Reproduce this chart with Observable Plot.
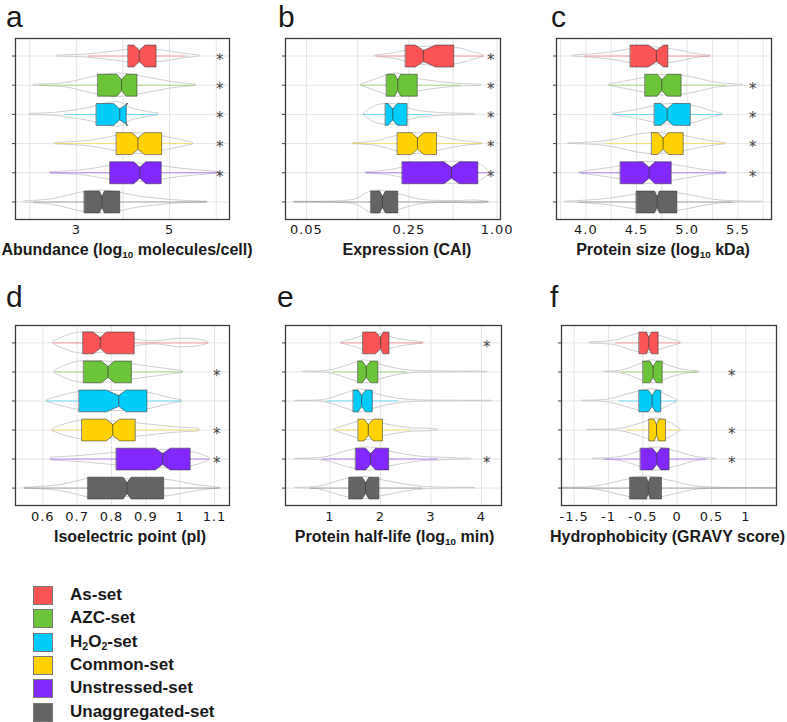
<!DOCTYPE html>
<html><head><meta charset="utf-8">
<script src="https://cdn.jsdelivr.net/npm/d3@7"></script>
<script src="https://cdn.jsdelivr.net/npm/@observablehq/plot@0.6"></script>
<style>
body{margin:0;background:#fff;}
#wrap{position:relative;width:787px;height:722px;overflow:hidden;font-family:"Liberation Sans",Arial,sans-serif;}
.pl{position:absolute;}
.letter{position:absolute;font-size:30px;line-height:30px;color:#1a1a1a;}
.title{position:absolute;width:300px;text-align:center;font-weight:bold;font-size:16px;line-height:18px;color:#1a1a1a;white-space:nowrap;}
.title sub,.leg sub{font-size:0.62em;vertical-align:-0.3em;line-height:0;}
.leg{position:absolute;left:0;font-weight:bold;font-size:17px;line-height:20px;color:#1a1a1a;}
.sw{position:absolute;width:18px;height:17px;border:1px solid #777;}
</style></head>
<body><div id="wrap"></div>
<script>
const groups = ["As-set","AZC-set","H2O2-set","Common-set","Unstressed-set","Unaggregated-set"];
const colors = ["#FA5456","#6CC539","#00CCFA","#FFD200","#8228FD","#646464"];

// box: [q1, notchLo, median, notchHi, q3]; whisker: [lo, hi]; violin: [[value, halfWidth]...]
const aBox = [[4.11,4.23,4.35,4.47,4.71],[3.46,3.87,3.97,4.07,4.30],[3.43,3.80,3.93,4.11,4.07],[3.86,4.19,4.32,4.46,4.83],[3.72,4.23,4.36,4.49,4.82],[3.17,3.49,3.55,3.60,3.93]];
const aWhisk = [[3.26,5.35],[2.21,5.56],[2.76,4.76],[2.55,5.50],[2.44,6.09],[2.09,5.81]];
const aViolin = [
 [[2.60,0.02],[3.2,0.05],[3.8,0.15],[4.3,0.25],[4.8,0.2],[5.3,0.08],[5.64,0.02]],
 [[2.09,0.02],[2.8,0.08],[3.4,0.3],[3.9,0.4],[4.4,0.3],[5.0,0.12],[5.56,0.02]],
 [[2.01,0.02],[2.6,0.06],[3.2,0.2],[3.9,0.42],[4.2,0.2],[4.76,0.03]],
 [[2.55,0.02],[3.3,0.1],[4.0,0.3],[4.4,0.35],[5.0,0.2],[5.5,0.03]],
 [[2.44,0.02],[3.2,0.1],[4.0,0.3],[4.5,0.3],[5.2,0.15],[6.09,0.02]],
 [[1.89,0.02],[2.5,0.1],[3.2,0.35],[3.7,0.38],[4.3,0.2],[5.1,0.06],[5.81,0.01]]];
const aStars = [1,1,1,1,1,0];
const aTicks = [3,5];
const aGrid = [2,3,4,5,6];

const bBox = [[0.237,0.277,0.314,0.38,0.506],[0.176,0.20,0.21,0.22,0.285],[0.173,0.18,0.194,0.208,0.243],[0.209,0.26,0.286,0.316,0.386],[0.225,0.433,0.488,0.553,0.738],[0.1375,0.158,0.165,0.173,0.21]];
const bWhisk = [[0.152,0.81],[0.118,0.568],[0.123,0.36],[0.104,0.79],[0.128,0.90],[0.0414,0.877]];
const bViolin = [
 [[0.148,0.02],[0.2,0.1],[0.3,0.3],[0.5,0.3],[0.7,0.12],[0.81,0.03]],
 [[0.118,0.02],[0.15,0.2],[0.2,0.4],[0.3,0.2],[0.5,0.06],[0.78,0.02]],
 [[0.123,0.02],[0.15,0.3],[0.2,0.35],[0.27,0.15],[0.4,0.05],[0.71,0.02]],
 [[0.104,0.01],[0.15,0.08],[0.25,0.35],[0.35,0.3],[0.55,0.1],[0.79,0.02]],
 [[0.128,0.02],[0.18,0.08],[0.3,0.3],[0.5,0.38],[0.75,0.3],[0.9,0.02]],
 [[0.0414,0.01],[0.08,0.02],[0.11,0.1],[0.14,0.38],[0.2,0.3],[0.3,0.08],[0.5,0.03],[0.7,0.05],[0.877,0.01]]];
const bStars = [1,1,1,1,1,0];
const bTicks = [0.05,0.25,1];
const bGrid = [0.05,0.1118,0.25,0.5,1];

const cBox = [[4.439,4.617,4.696,4.769,4.809],[4.584,4.703,4.749,4.802,4.94],[4.677,4.74,4.802,4.86,5.03],[4.65,4.71,4.762,4.815,4.96],[4.34,4.561,4.624,4.683,4.842],[4.498,4.677,4.703,4.726,4.898]];
const cWhisk = [[3.99,5.228],[4.234,5.386],[4.274,5.347],[4.198,5.376],[3.944,5.386],[3.934,5.452]];
const cViolin = [
 [[3.88,0.02],[4.2,0.1],[4.6,0.3],[4.9,0.2],[5.1,0.06],[5.23,0.02]],
 [[4.23,0.02],[4.5,0.2],[4.75,0.35],[5.0,0.3],[5.3,0.08],[5.55,0.02]],
 [[4.27,0.02],[4.5,0.15],[4.8,0.35],[5.05,0.3],[5.25,0.1],[5.35,0.02]],
 [[3.83,0.01],[4.2,0.08],[4.6,0.35],[4.9,0.3],[5.2,0.1],[5.38,0.02]],
 [[3.94,0.02],[4.3,0.2],[4.6,0.38],[4.9,0.25],[5.2,0.08],[5.39,0.02]],
 [[3.8,0.01],[4.2,0.1],[4.6,0.3],[4.9,0.3],[5.3,0.06],[5.74,0.01]]];
const cStars = [0,1,1,1,1,0];
const cTicks = [4.0,4.5,5.0,5.5];
const cGrid = [3.75,4.0,4.25,4.5,4.75,5.0,5.25,5.5,5.75];

const dBox = [[0.717,0.746,0.7676,0.785,0.866],[0.719,0.7705,0.79,0.809,0.858],[0.706,0.785,0.821,0.843,0.903],[0.714,0.785,0.8035,0.824,0.869],[0.814,0.9275,0.949,0.971,1.029],[0.731,0.834,0.845,0.857,0.952]];
const dWhisk = [[0.632,1.0826],[0.635,1.008],[0.6126,1.005],[0.629,1.056],[0.625,1.085],[0.5467,1.1165]];
const dViolin = [
 [[0.632,0.05],[0.7,0.35],[0.8,0.3],[0.88,0.1],[0.93,0.05],[1.0,0.15],[1.06,0.1],[1.083,0.02]],
 [[0.635,0.05],[0.7,0.35],[0.8,0.35],[0.9,0.2],[0.95,0.12],[1.008,0.03]],
 [[0.613,0.03],[0.7,0.3],[0.8,0.35],[0.9,0.3],[0.97,0.1],[1.005,0.03]],
 [[0.63,0.05],[0.7,0.3],[0.8,0.3],[0.9,0.2],[0.98,0.1],[1.056,0.05]],
 [[0.625,0.05],[0.7,0.1],[0.8,0.2],[0.9,0.3],[1.0,0.3],[1.05,0.2],[1.085,0.05]],
 [[0.547,0.01],[0.65,0.1],[0.75,0.35],[0.85,0.3],[0.95,0.3],[1.05,0.1],[1.117,0.01]]];
const dStars = [0,1,0,1,1,0];
const dTicks = [0.6,0.7,0.8,0.9,1,1.1];
const dGrid = [0.6,0.7,0.8,0.9,1,1.1];

const eBox = [[1.654,1.905,2.005,2.05,2.17],[1.555,1.64,1.72,1.806,1.95],[1.463,1.56,1.628,1.707,1.839],[1.562,1.674,1.76,1.86,2.04],[1.51,1.707,1.806,1.905,2.163],[1.377,1.64,1.707,1.773,1.97]];
const eWhisk = [[1.231,2.85],[1.05,2.53],[0.947,2.355],[1.079,2.6],[0.848,3.128],[0.617,2.844]];
const eViolin = [
 [[1.23,0.02],[1.5,0.15],[1.8,0.3],[2.1,0.25],[2.4,0.12],[2.85,0.02]],
 [[0.47,0.005],[1.0,0.05],[1.4,0.25],[1.7,0.4],[2.0,0.25],[2.5,0.06],[3.2,0.02],[4.12,0.005]],
 [[0.32,0.01],[0.9,0.04],[1.3,0.25],[1.6,0.4],[2.0,0.2],[2.5,0.05],[3.5,0.01],[4.2,0.01]],
 [[1.08,0.02],[1.4,0.2],[1.75,0.35],[2.1,0.2],[2.6,0.06],[2.9,0.05],[3.14,0.02]],
 [[0.32,0.01],[0.9,0.06],[1.4,0.3],[1.8,0.4],[2.2,0.25],[2.8,0.08],[3.3,0.04],[3.8,0.01]],
 [[0.32,0.01],[0.8,0.05],[1.3,0.3],[1.7,0.38],[2.1,0.25],[2.8,0.05],[3.875,0.01]]];
const eStars = [1,0,0,0,1,0];
const eTicks = [1,2,3,4];
const eGrid = [1,2,3,4];

const fBox = [[-0.553,-0.447,-0.413,-0.374,-0.277],[-0.495,-0.398,-0.35,-0.30,-0.218],[-0.553,-0.422,-0.364,-0.316,-0.238],[-0.408,-0.335,-0.30,-0.267,-0.17],[-0.534,-0.359,-0.296,-0.238,-0.117],[-0.689,-0.447,-0.422,-0.393,-0.228]];
const fWhisk = [[-0.898,0.053],[-0.811,0.316],[-0.845,0],[-0.738,0.053],[-1.053,0.427],[-1.675,1.447]];
const fViolin = [
 [[-1.27,0.02],[-0.9,0.08],[-0.6,0.3],[-0.4,0.35],[-0.2,0.2],[0.05,0.03]],
 [[-1.05,0.01],[-0.8,0.05],[-0.5,0.3],[-0.35,0.4],[-0.1,0.2],[0.1,0.07],[0.32,0.02]],
 [[-1.38,0.01],[-1.0,0.05],[-0.6,0.3],[-0.35,0.4],[-0.15,0.2],[0,0.03]],
 [[-1.3,0.01],[-0.8,0.05],[-0.5,0.25],[-0.3,0.4],[-0.1,0.25],[0.05,0.03]],
 [[-1.22,0.01],[-0.8,0.08],[-0.5,0.3],[-0.3,0.4],[0,0.25],[0.3,0.06],[0.57,0.01]],
 [[-1.68,0.01],[-1.2,0.05],[-0.8,0.25],[-0.45,0.4],[-0.1,0.25],[0.3,0.05],[1.45,0.01]]];
const fStars = [0,1,0,1,1,0];
const fTicks = [-1.5,-1,-0.5,0,0.5,1];
const fGrid = [-1.5,-1,-0.5,0,0.5,1];

const rows = [1,2,3,4,5,6];

const panels = [
 {letter:"a", box:aBox, whisk:aWhisk, violin:aViolin, stars:aStars, ticks:aTicks, grid:aGrid, type:"linear", domain:[1.694,6.285], fmt:d=>String(d), starDx:-5, frame:[15,38,229,219], pad:10, lx:6, tc:127, title:"Abundance (log<sub>10</sub> molecules/cell)"},
 {letter:"b", box:bBox, whisk:bWhisk, violin:bViolin, stars:bStars, ticks:bTicks, grid:bGrid, type:"log", domain:[0.036,1.054], fmt:d=>d.toFixed(2), starDx:-5, frame:[285,38,500,219], pad:10, lx:278, tc:407, title:"Expression (CAI)"},
 {letter:"c", box:cBox, whisk:cWhisk, violin:cViolin, stars:cStars, ticks:cTicks, grid:cGrid, type:"linear", domain:[3.71,5.832], fmt:d=>d.toFixed(1), starDx:-14, frame:[556,38,771,219], pad:10, lx:551, tc:663, title:"Protein size (log<sub>10</sub> kDa)"},
 {letter:"d", box:dBox, whisk:dWhisk, violin:dViolin, stars:dStars, ticks:dTicks, grid:dGrid, type:"linear", domain:[0.5205,1.1436], fmt:d=>String(d), starDx:-8, frame:[15,325,229,505], pad:11.5, lx:6, tc:130, title:"Isoelectric point (pI)"},
 {letter:"e", box:eBox, whisk:eWhisk, violin:eViolin, stars:eStars, ticks:eTicks, grid:eGrid, type:"linear", domain:[0.121,4.397], fmt:d=>String(d), starDx:-10, frame:[285,325,501,505], pad:11.5, lx:277, tc:394.5, title:"Protein half-life (log<sub>10</sub> min)"},
 {letter:"f", box:fBox, whisk:fWhisk, violin:fViolin, stars:fStars, ticks:fTicks, grid:fGrid, type:"linear", domain:[-1.684,1.447], fmt:d=>String(d), starDx:-40, frame:[561,325,776,505], pad:11.5, lx:550, tc:667.5, title:"Hydrophobicity (GRAVY score)"}
];

const wrap = document.getElementById("wrap");
const H = 0.375;
const ml = 8, mr = 6, mt = 4, mb = 28;

panels.forEach((p, pi) => {
  const [x0,y0,x1,y1] = p.frame;
  const marks = [];
  marks.push(Plot.ruleX(p.grid, {x: d=>d, stroke:"#e2e2e2", strokeWidth:0.9}));
  marks.push(Plot.ruleY(rows, {y: d=>d, stroke:"#e2e2e2", strokeWidth:0.9}));
  p.violin.forEach((prof, i) => {
    marks.push(Plot.areaY(prof, {x: d=>d[0], y1: d=>i+1-d[1], y2: d=>i+1+d[1], fill:"none", stroke:"#c8c8c8", strokeWidth:0.9, curve:"catmull-rom", clip:true}));
  });
  const wd = p.whisk.map((w,i)=>({lo:w[0], hi:w[1], row:i+1, c:colors[i]}));
  marks.push(Plot.ruleY(wd, {y:"row", x1:"lo", x2:"hi", stroke:d=>d.c, strokeWidth:0.9, strokeOpacity:0.6, clip:true}));
  p.box.forEach((b, i) => {
    const c = i+1;
    const [q1,nl,md,nh,q3] = b;
    const verts = [[q1,c-H],[nl,c-H],[md,c-H/2],[nh,c-H],[q3,c-H],[q3,c+H],[nh,c+H],[md,c+H/2],[nl,c+H],[q1,c+H]];
    marks.push(Plot.line(verts, {x:d=>d[0], y:d=>d[1], fill:colors[i], stroke:"#3a3a3a", strokeOpacity:0.65, strokeWidth:0.9, curve:"linear-closed"}));
    marks.push(Plot.ruleX([md], {x:d=>d, y1:c-H/2, y2:c+H/2, stroke:"#3a3a3a", strokeOpacity:0.7, strokeWidth:1}));
  });
  marks.push(Plot.text(rows.filter((r,i)=>p.stars[i]), {y:d=>d, text:()=>"*", frameAnchor:"right", dx:p.starDx, dy:4, fontSize:15, fill:"#444", fontFamily:"DejaVu Sans"}));
  marks.push(Plot.text(p.ticks, {x:d=>d, text:p.fmt, frameAnchor:"bottom", lineAnchor:"middle", dy:p.pad, fontSize:13, fill:"#1a1a1a", fontFamily:"DejaVu Sans"}));
  marks.push(Plot.axisY(rows, {tickSize:3, tickFormat:()=>"", stroke:"#444", label:null}));
  marks.push(Plot.frame({stroke:"#3c3c3c", strokeWidth:1.3}));
  const svg = Plot.plot({
    width: (x1-x0)+ml+mr,
    height: (y1-y0)+mt+mb,
    marginLeft: ml, marginRight: mr, marginTop: mt, marginBottom: mb,
    x: {type:p.type, domain:p.domain, axis:null},
    y: {domain:[6.6,0.4], axis:null, label:null},
    color: {type:"identity"},
    style: {background:"transparent", overflow:"visible", letterSpacing:"1px"},
    marks
  });
  const holder = document.createElement("div");
  holder.className = "pl";
  holder.style.left = (x0-ml)+"px";
  holder.style.top = (y0-mt)+"px";
  holder.appendChild(svg);
  wrap.appendChild(holder);

  const L = document.createElement("div");
  L.className = "letter";
  L.textContent = p.letter;
  L.style.left = p.lx+"px";
  L.style.top = (pi < 3 ? 2.1 : 281.6)+"px";
  wrap.appendChild(L);

  const T = document.createElement("div");
  T.className = "title";
  T.innerHTML = p.title;
  T.style.left = (p.tc - 150)+"px";
  T.style.top = (pi < 3 ? 241 : 528)+"px";
  wrap.appendChild(T);
});

const legendLabels = ["As-set","AZC-set","H<sub>2</sub>O<sub>2</sub>-set","Common-set","Unstressed-set","Unaggregated-set"];
legendLabels.forEach((lab, i) => {
  const top = 586 + i*23.33;
  const s = document.createElement("div");
  s.className = "sw";
  s.style.left = "33px";
  s.style.top = top+"px";
  s.style.background = colors[i];
  wrap.appendChild(s);
  const t = document.createElement("div");
  t.className = "leg";
  t.innerHTML = lab;
  t.style.left = "70px";
  t.style.top = (top-1)+"px";
  wrap.appendChild(t);
});
</script>
</body></html>
